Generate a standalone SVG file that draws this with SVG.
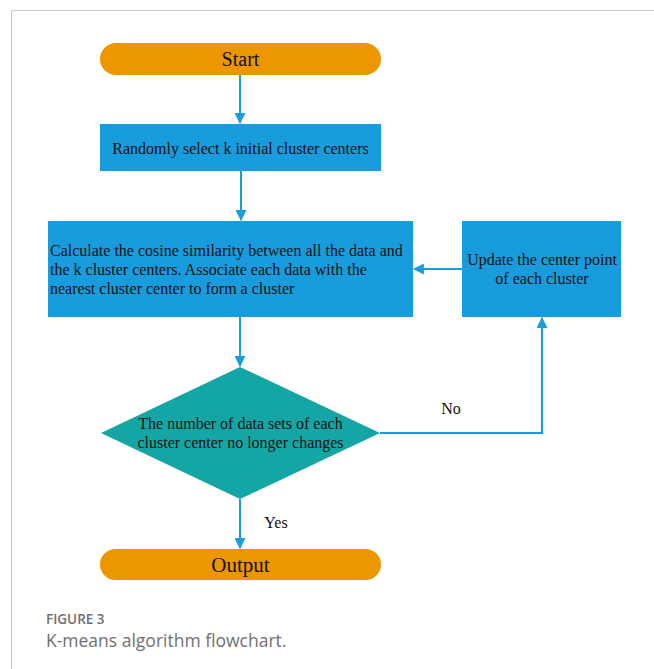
<svg xmlns="http://www.w3.org/2000/svg" width="654" height="669" viewBox="0 0 654 669">
<style>
.t{font-family:"Liberation Serif","Times New Roman",serif;fill:#111;}
.term{fill:#EC9700;}
.box{fill:#199CDD;}
.dec{fill:#13A6A5;}
.c{stroke:#1A9BDC;stroke-width:2;fill:none;marker-end:url(#ah);}
.cap{font-family:"Open Sans","Liberation Sans",sans-serif;fill:#707070;}
</style>
<defs>
<marker id="ah" viewBox="0 0 10 10" refX="9" refY="5" markerWidth="5.5" markerHeight="5.5" orient="auto" markerUnits="strokeWidth">
<path d="M0,0 L10,5 L0,10 z" fill="#1A9BDC"/>
</marker>
</defs>
<rect width="654" height="669" fill="#fff"/>
<path d="M11.5,669 V10.5 H654" stroke="#c8c8c8" stroke-width="1" fill="none"/>
<g id="connectors">
<path class="c" d="M240,75 V123"/>
<path class="c" d="M241,171 V220"/>
<path class="c" d="M462,269 H414"/>
<path class="c" d="M240,317 V366"/>
<path class="c" d="M380,433 H542 V318"/>
<path class="c" d="M240,499 V548"/>
<text class="t" x="451" y="414" font-size="16" text-anchor="middle">No</text>
<text class="t" x="276" y="528" font-size="16" text-anchor="middle">Yes</text>
</g>
<g id="start">
<rect class="term" x="100" y="43" width="281" height="32" rx="16"/>
<text class="t" x="240.5" y="66" font-size="20" text-anchor="middle">Start</text>
</g>
<g id="init">
<rect class="box" x="100" y="124" width="281" height="47"/>
<text class="t" x="240.5" y="153.5" font-size="16" text-anchor="middle">Randomly select k initial cluster centers</text>
</g>
<g id="assign">
<rect class="box" x="48" y="221" width="365" height="96"/>
<text class="t" x="50" y="255.5" font-size="16">Calculate the cosine similarity between all the data and</text>
<text class="t" x="50" y="274.5" font-size="16">the k cluster centers. Associate each data with the</text>
<text class="t" x="50" y="293.5" font-size="16">nearest cluster center to form a cluster</text>
</g>
<g id="update">
<rect class="box" x="462" y="221" width="159" height="96"/>
<text class="t" x="542" y="265" font-size="16" text-anchor="middle">Update the center point</text>
<text class="t" x="542" y="284" font-size="16" text-anchor="middle">of each cluster</text>
</g>
<g id="decision">
<polygon class="dec" points="240,367 380,433 240,499 101,433"/>
<text class="t" x="240.5" y="428.5" font-size="16" text-anchor="middle">The number of data sets of each</text>
<text class="t" x="240.5" y="447.5" font-size="16" text-anchor="middle">cluster center no longer changes</text>
</g>
<g id="output">
<rect class="term" x="100" y="549" width="281" height="31" rx="15.5"/>
<text class="t" x="240.5" y="572" font-size="21" text-anchor="middle">Output</text>
</g>
<g id="caption">
<text class="cap" x="46" y="624" font-size="13.5" font-weight="600">FIGURE 3</text>
<text class="cap" x="46" y="647" font-size="17.5">K-means algorithm flowchart.</text>
</g>
</svg>
